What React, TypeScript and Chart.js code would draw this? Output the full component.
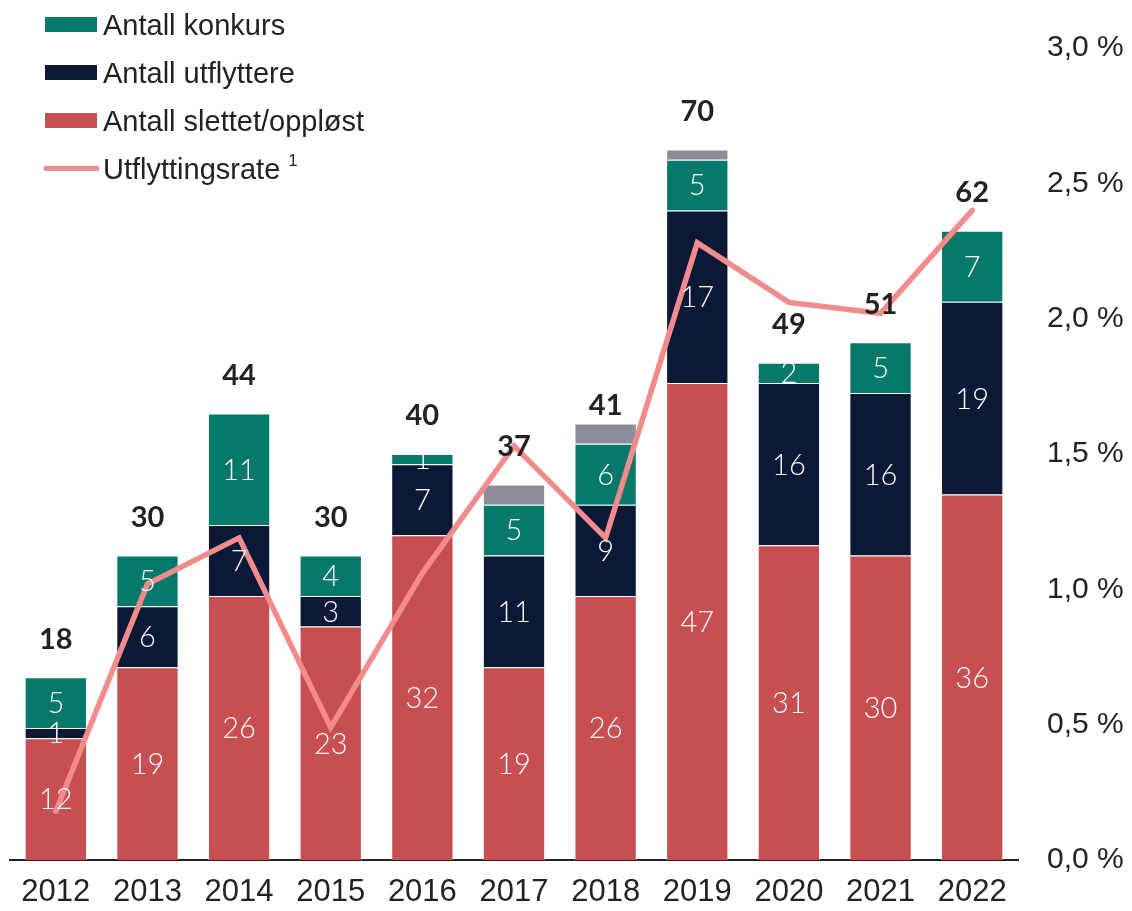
import { useEffect, useRef } from 'react';
import { Chart, registerables } from 'chart.js';

Chart.register(...registerables);

const years = ['2012', '2013', '2014', '2015', '2016', '2017', '2018', '2019', '2020', '2021', '2022'];
const slettet = [12, 19, 26, 23, 32, 19, 26, 47, 31, 30, 36];
const utflyttere = [1, 6, 7, 3, 7, 11, 9, 17, 16, 16, 19];
const konkurs = [5, 5, 11, 4, 1, 5, 6, 5, 2, 5, 7];
const annet = [0, 0, 0, 0, 0, 2, 2, 1, 0, 0, 0];
const totals = [18, 30, 44, 30, 40, 37, 41, 70, 49, 51, 62];
const rate = [0.18, 1.02, 1.19, 0.49, 1.06, 1.53, 1.19, 2.28, 2.06, 2.02, 2.4];

const legendItems = [
  { label: 'Antall konkurs', color: '#06796B', type: 'box' },
  { label: 'Antall utflyttere', color: '#0B1936', type: 'box' },
  { label: 'Antall slettet/oppløst', color: '#C84F51', type: 'box' },
  { label: 'Utflyttingsrate', color: '#F28B8C', type: 'line', sup: '1' },
];

const TEXT = '#222222';
const SANS = '"Liberation Sans", Arial, sans-serif';

const labelPlugin = {
  id: 'customLabels',
  afterDatasetsDraw(chart: any) {
    const ctx = chart.ctx;
    ctx.save();
    ctx.textAlign = 'center';
    ctx.textBaseline = 'middle';
    ctx.fillStyle = '#ffffff';
    ctx.font = '300 29px Lato, "Liberation Sans", sans-serif';
    [1, 2, 3].forEach((di) => {
      const meta = chart.getDatasetMeta(di);
      meta.data.forEach((bar: any, i: number) => {
        const v = chart.data.datasets[di].data[i];
        if (!v) return;
        const p = bar.getProps(['x', 'y', 'base'], true);
        ctx.fillText(String(v), p.x, (p.y + p.base) / 2 + 1);
      });
    });
    ctx.fillStyle = TEXT;
    ctx.font = 'bold 29px Lato, "Liberation Sans", sans-serif';
    const yScale = chart.scales.y;
    const meta0 = chart.getDatasetMeta(1);
    totals.forEach((t, i) => {
      const x = meta0.data[i].x;
      ctx.fillText(String(t), x, yScale.getPixelForValue(t) - 38);
    });
    ctx.restore();
  },
  afterDraw(chart: any) {
    const ctx = chart.ctx;
    ctx.save();
    ctx.textAlign = 'left';
    ctx.textBaseline = 'alphabetic';
    legendItems.forEach((it, i) => {
      const cy = 24.5 + i * 48;
      if (it.type === 'box') {
        ctx.fillStyle = it.color;
        ctx.fillRect(45, cy - 7.5, 52, 15);
      } else {
        ctx.strokeStyle = it.color;
        ctx.lineWidth = 5;
        ctx.lineCap = 'round';
        ctx.beginPath();
        ctx.moveTo(46, cy);
        ctx.lineTo(97, cy);
        ctx.stroke();
      }
      ctx.fillStyle = TEXT;
      ctx.font = '29px ' + SANS;
      ctx.fillText(it.label, 103, cy + 10);
      if (it.sup) {
        const w = ctx.measureText(it.label + ' ').width;
        ctx.font = '17px ' + SANS;
        ctx.fillText(it.sup, 103 + w, cy - 3);
      }
    });
    ctx.restore();
  },
};

export default function App() {
  const ref = useRef<HTMLCanvasElement>(null);
  useEffect(() => {
    if (!ref.current) return;
    const chart = new Chart(ref.current, {
      type: 'bar',
      data: {
        labels: years,
        datasets: [
          {
            type: 'line',
            label: 'Utflyttingsrate',
            data: rate,
            yAxisID: 'y2',
            borderColor: '#F28B8C',
            borderWidth: 5.5,
            pointRadius: 0,
            tension: 0,
            borderCapStyle: 'round',
            borderJoinStyle: 'miter',
            order: 0,
          } as any,
          {
            label: 'Antall slettet/oppløst',
            data: slettet,
            backgroundColor: '#C84F51',
            borderColor: 'rgba(255,255,255,0.5)',
            borderWidth: 1,
            yAxisID: 'y',
            stack: 's',
            order: 1,
          },
          {
            label: 'Antall utflyttere',
            data: utflyttere,
            backgroundColor: '#0B1936',
            borderColor: 'rgba(255,255,255,0.5)',
            borderWidth: 1,
            yAxisID: 'y',
            stack: 's',
            order: 1,
          },
          {
            label: 'Antall konkurs',
            data: konkurs,
            backgroundColor: '#06796B',
            borderColor: 'rgba(255,255,255,0.5)',
            borderWidth: 1,
            yAxisID: 'y',
            stack: 's',
            order: 1,
          },
          {
            label: 'Annet',
            data: annet,
            backgroundColor: '#8D8D9A',
            borderColor: 'rgba(255,255,255,0.5)',
            borderWidth: 1,
            yAxisID: 'y',
            stack: 's',
            order: 1,
          },
        ],
      },
      options: {
        responsive: false,
        animation: false,
        devicePixelRatio: 1,
        layout: { padding: { left: 10, top: 48, right: 0, bottom: 0 } },
        datasets: { bar: { categoryPercentage: 1, barPercentage: 0.68 } },
        plugins: { legend: { display: false }, tooltip: { enabled: false } },
        scales: {
          x: {
            stacked: true,
            grid: { display: false, drawTicks: false },
            border: { display: true, color: '#222222', width: 2 },
            ticks: { color: TEXT, font: { family: SANS, size: 31 }, padding: 14, maxRotation: 0 },
            afterFit: (s: any) => {
              s.height = 51;
            },
          },
          y: {
            stacked: true,
            display: false,
            min: 0,
            max: 80,
          },
          y2: {
            position: 'right',
            min: 0,
            max: 3,
            grid: { display: false, drawTicks: false },
            border: { display: false },
            ticks: {
              stepSize: 0.5,
              color: TEXT,
              padding: 29,
              font: { family: SANS, size: 30 },
              callback: (v: any) => Number(v).toFixed(1).replace('.', ',') + ' %',
            },
            afterFit: (s: any) => {
              s.width = 114;
            },
          },
        },
      },
      plugins: [labelPlugin],
    });
    return () => chart.destroy();
  }, []);
  return (
    <canvas
      ref={ref}
      width={1132}
      height={911}
      style={{ position: 'fixed', left: 0, top: 0, width: 1132, height: 911 }}
    />
  );
}
